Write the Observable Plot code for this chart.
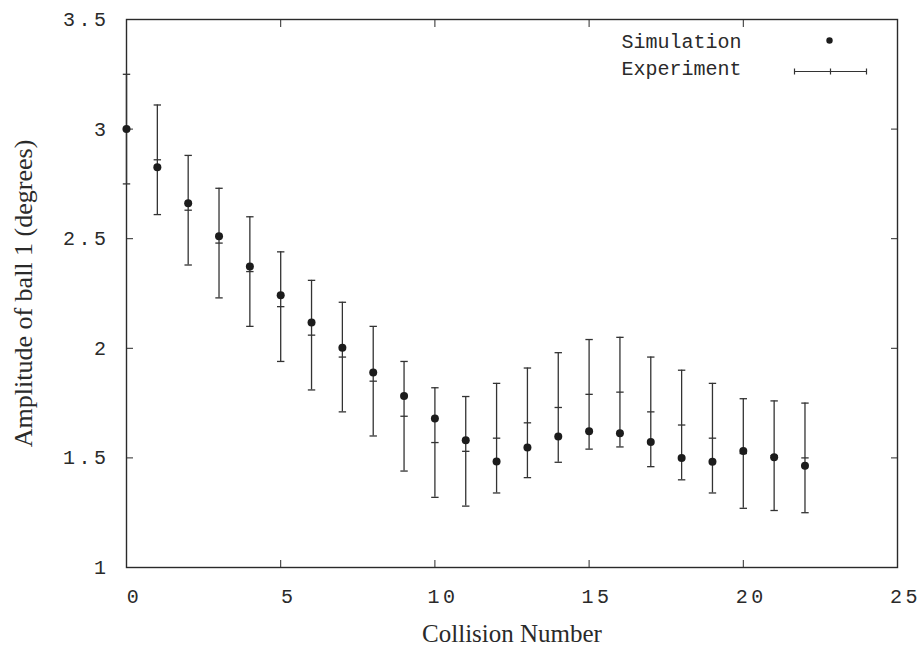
<!DOCTYPE html>
<html><head><meta charset="utf-8">
<script src="https://cdn.jsdelivr.net/npm/d3@7"></script>
<script src="https://cdn.jsdelivr.net/npm/@observablehq/plot@0.6"></script>
<style>
body{margin:0;background:#fff}
g[aria-label="x-axis tick label"], g[aria-label="y-axis tick label"], g[aria-label="legend-text"]{letter-spacing:3.5px}
</style></head><body><div id="chart"></div>
<script>
const collision = [0,1,2,3,4,5,6,7,8,9,10,11,12,13,14,15,16,17,18,19,20,21,22];
const simulation = [3.00,2.826,2.662,2.511,2.373,2.242,2.118,2.002,1.890,1.782,1.680,1.581,1.484,1.547,1.598,1.622,1.613,1.573,1.500,1.482,1.531,1.503,1.464];
const experimentMean = [3.00,2.86,2.63,2.48,2.35,2.19,2.06,1.96,1.85,1.69,1.57,1.53,1.59,1.66,1.73,1.79,1.80,1.71,1.65,1.59,1.52,1.51,1.50];
const experimentErr = [0.25,0.25,0.25,0.25,0.25,0.25,0.25,0.25,0.25,0.25,0.25,0.25,0.25,0.25,0.25,0.25,0.25,0.25,0.25,0.25,0.25,0.25,0.25];
const xTicks = [0,5,10,15,20,25];
const yTicks = [1,1.5,2,2.5,3,3.5];
const xLabel = "Collision Number";
const yLabel = "Amplitude of ball 1 (degrees)";
const legendLabels = ["Simulation","Experiment"];

const rows = collision.map((c,i)=>({x:c, sim:simulation[i], mean:experimentMean[i], lo:experimentMean[i]-experimentErr[i], hi:experimentMean[i]+experimentErr[i]}));

const hline = {draw(ctx, size){ const r = Math.sqrt(size/Math.PI); ctx.moveTo(-r,0); ctx.lineTo(r,0); }};
const legendBar = {draw(ctx){ ctx.moveTo(-36,0); ctx.lineTo(36,0); ctx.moveTo(-36,-3); ctx.lineTo(-36,3); ctx.moveTo(36,-3); ctx.lineTo(36,3); ctx.moveTo(0,-3); ctx.lineTo(0,3); }};

const ink = "#2a2a2a";
const bar = "#333";
const mono = "Liberation Mono";
const serif = "Liberation Serif";

const chart = Plot.plot({
  width: 922, height: 645,
  marginLeft: 126, marginRight: 25, marginTop: 19, marginBottom: 78,
  style: {background: "#fff", color: ink},
  x: {domain: [0,25], nice: false},
  y: {domain: [1,3.5], nice: false},
  marks: [
    Plot.axisX({anchor:"bottom", ticks: xTicks, tickSize: -7, tickFormat: ()=>"", label: null, stroke: ink}),
    Plot.axisX({anchor:"bottom", ticks: xTicks, tickSize: 0, tickPadding: 21, dx: 8, tickFormat: d=>String(d), fontFamily: mono, fontSize: 20, label: null}),
    Plot.axisX({anchor:"top", ticks: xTicks, tickSize: -7, tickFormat: ()=>"", label: null, stroke: ink}),
    Plot.axisY({anchor:"left", ticks: yTicks, tickSize: -7, tickPadding: 24, tickFormat: d=>String(d), fontFamily: mono, fontSize: 20, label: null, stroke: ink}),
    Plot.axisY({anchor:"right", ticks: yTicks, tickSize: -7, tickFormat: ()=>"", label: null, stroke: ink}),
    Plot.frame({stroke: ink, strokeWidth: 1.4}),
    Plot.ruleX(rows, {x:"x", y1:"lo", y2:"hi", stroke:bar, strokeWidth:1.3}),
    Plot.dot(rows, {x:"x", y:"hi", symbol: hline, r:3.7, fill:"none", stroke:bar, strokeWidth:1.3}),
    Plot.dot(rows, {x:"x", y:"lo", symbol: hline, r:3.7, fill:"none", stroke:bar, strokeWidth:1.3}),
    Plot.dot(rows, {x:"x", y:"mean", symbol: hline, r:3.7, fill:"none", stroke:bar, strokeWidth:1.3}),
    Plot.dot(rows, {x:"x", y:"sim", r:4, fill:"#1c1c1c", stroke:"none"}),
    Plot.text([legendLabels[0]], {frameAnchor:"top-right", dx:-276, dy:22, textAnchor:"start", lineAnchor:"middle", fontFamily: mono, fontSize:20, fill: ink, ariaLabel:"legend-text"}),
    Plot.text([legendLabels[1]], {frameAnchor:"top-right", dx:-276, dy:49, textAnchor:"start", lineAnchor:"middle", fontFamily: mono, fontSize:20, fill: ink, ariaLabel:"legend-text"}),
    Plot.dot([0], {frameAnchor:"top-right", dx:-68, dy:21, r:3.2, fill:"#1c1c1c"}),
    Plot.dot([0], {frameAnchor:"top-right", dx:-67, dy:52, symbol: legendBar, r:3, fill:"none", stroke:bar, strokeWidth:1.2}),
    Plot.text([xLabel], {frameAnchor:"bottom", dy:66, textAnchor:"middle", lineAnchor:"middle", fontFamily: serif, fontSize:25, fill: ink}),
    Plot.text([yLabel], {frameAnchor:"left", dx:-103, rotate:-90, textAnchor:"middle", lineAnchor:"middle", fontFamily: serif, fontSize:26, fill: ink})
  ]
});
document.getElementById("chart").append(chart);
</script></body></html>
